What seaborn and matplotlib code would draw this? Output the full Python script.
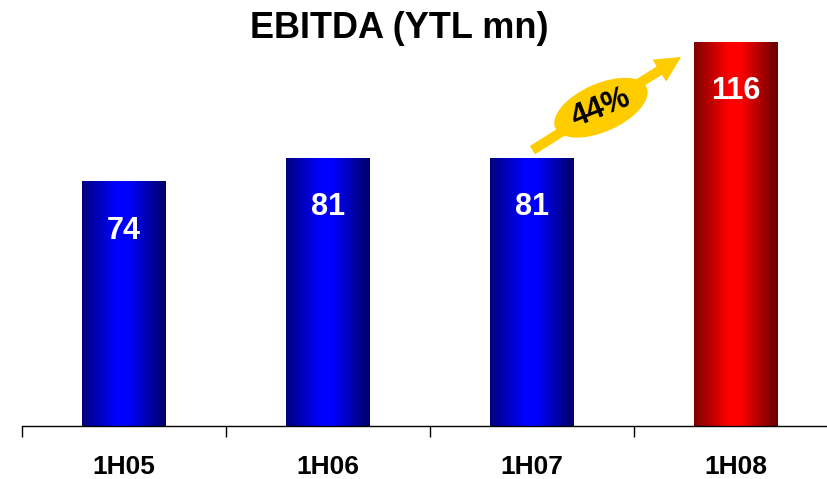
import numpy as np
import pandas as pd
import matplotlib
matplotlib.use("Agg")
import matplotlib.pyplot as plt
import seaborn as sns
from matplotlib.colors import LinearSegmentedColormap
from matplotlib.patches import Ellipse
from matplotlib.transforms import ScaledTranslation

# Half-year EBITDA figures (YTL mn)
periods = ["1H05", "1H06", "1H07", "1H08"]
ebitda = [74, 81, 81, 116]
growth_label = "44%"

sns.set_style("white")
plt.rcParams["font.family"] = ["Liberation Sans", "DejaVu Sans"]
plt.rcParams["text.color"] = "black"
plt.rcParams["xtick.color"] = "black"
plt.rcParams["xtick.labelcolor"] = "black"

df = pd.DataFrame({"period": periods, "ebitda": ebitda})

fig = plt.figure(figsize=(8.28, 4.79), dpi=100)
ax = fig.add_axes([22 / 828, 53 / 479, 806 / 828, 414 / 479])

sns.barplot(data=df, x="period", y="ebitda", ax=ax, width=0.41,
            color="#0000ff", saturation=1, edgecolor="none")

# cylindrical shading across each bar
blue_cm = LinearSegmentedColormap.from_list(
    "bluebar", [(0, (0, 0, 0.50)), (0.42, (0, 0, 1.0)), (0.55, (0, 0, 1.0)), (1, (0, 0, 0.40))])
red_cm = LinearSegmentedColormap.from_list(
    "redbar", [(0, (0.50, 0, 0)), (0.42, (1.0, 0, 0)), (0.55, (1.0, 0, 0)), (1, (0.40, 0, 0))])
grad = np.linspace(0, 1, 256).reshape(1, -1)
for i, patch in enumerate(ax.patches):
    x0, y0 = patch.get_x(), patch.get_y()
    w, h = patch.get_width(), patch.get_height()
    cm = red_cm if i == len(ax.patches) - 1 else blue_cm
    im = ax.imshow(grad, cmap=cm, aspect="auto", extent=(x0, x0 + w, y0, y0 + h),
                   zorder=patch.get_zorder() + 0.1, interpolation="bilinear")
    im.set_clip_path(patch)

# value labels inside the bars
for i, v in enumerate(ebitda):
    ax.text(i, v - 15, f"{v}", ha="center", va="center", color="white",
            fontsize=22, fontweight="bold", zorder=5)

ax.set_xlim(-0.5, -0.5 + 806 / 204)
ax.set_ylim(0, 125)
ax.set_xlabel("")
ax.set_ylabel("")
ax.set_yticks([])
for side in ("left", "right", "top"):
    ax.spines[side].set_visible(False)
ax.spines["bottom"].set_color("black")
ax.spines["bottom"].set_linewidth(1.0)

ax.set_xticks(range(len(periods)))
ax.set_xticklabels(periods, fontsize=19, fontweight="bold", color="black")
ax.tick_params(axis="x", which="major", length=0, pad=21)
ax.set_xticks(np.arange(len(periods)) - 0.5, minor=True)
ax.tick_params(axis="x", which="minor", bottom=True, length=8, width=1,
               direction="out", color="black")

# growth arrow 1H07 -> 1H08
ax.annotate("", xy=(2.725, 111.2), xytext=(2.005, 83.4),
            arrowprops=dict(arrowstyle="simple,head_length=17,head_width=17,tail_width=6",
                            mutation_scale=1, color="#ffcc00", shrinkA=0, shrinkB=0),
            zorder=6)
cx, cy = 2.338, 96.1
badge = Ellipse((0, 0), width=1.0, height=0.48, angle=24, facecolor="#ffcc00",
                edgecolor="none", zorder=7,
                transform=fig.dpi_scale_trans + ScaledTranslation(cx, cy, ax.transData))
ax.add_patch(badge)
ax.text(cx, cy, growth_label, ha="center", va="center", rotation=22,
        fontsize=22, fontweight="bold", color="black", zorder=8,
        rotation_mode="anchor")

fig.text(399 / 828, 1 - 38 / 479, "EBITDA (YTL mn)", ha="center", va="baseline",
         fontsize=26, fontweight="bold", color="black")

fig.savefig("out.png", dpi=100)
